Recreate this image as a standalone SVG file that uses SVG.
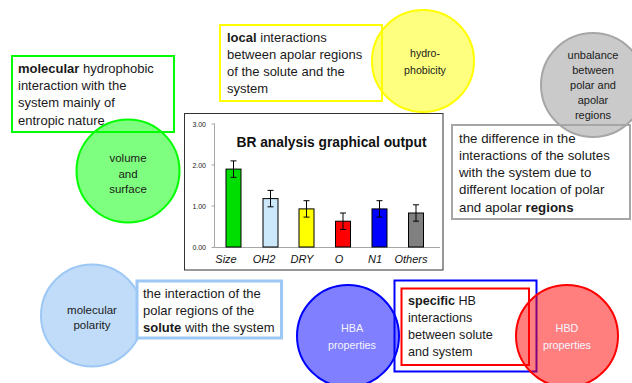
<svg xmlns="http://www.w3.org/2000/svg" width="632" height="383" viewBox="0 0 632 383">
<style>
.t{font-family:"Liberation Sans",Arial,sans-serif;font-size:13px;fill:#1a1a1a}
.c{font-family:"Liberation Sans",Arial,sans-serif;font-size:11px;fill:#1a1a1a;text-anchor:middle}
.w{fill:#f4f4ff}
.b{font-weight:bold}
.ax{font-family:"Liberation Sans",Arial,sans-serif;font-size:7px;fill:#222;text-anchor:end}
.xl{font-family:"Liberation Sans",Arial,sans-serif;font-size:11px;font-style:italic;fill:#111;text-anchor:middle}
.bar{stroke:#000;stroke-width:1}
.err{stroke:#000;stroke-width:1;fill:none}
</style>
<rect width="632" height="383" fill="#fff"/>

<g id="molecular-hydrophobic">
<rect x="12" y="56" width="162" height="76" fill="#fff" stroke="#00ff00" stroke-width="2"/>
<text class="t" x="18" y="73"><tspan class="b">molecular</tspan> hydrophobic<tspan x="18" dy="17.2">interaction with the</tspan><tspan x="18" dy="17.2">system mainly of</tspan><tspan x="18" dy="17.2">entropic nature</tspan></text>
</g>
<g id="volume-surface">
<circle cx="128" cy="171" r="51.5" fill="#00ff00" fill-opacity="0.5" stroke="#00ff00" stroke-width="2"/>
<text class="c" x="128" y="162" style="font-size:11.5px">volume<tspan x="128" dy="15.7">and</tspan><tspan x="128" dy="15.7">surface</tspan></text>
</g>

<g id="local-interactions">
<rect x="220" y="25" width="162" height="76" fill="#fff" stroke="#ffff00" stroke-width="2"/>
<text class="t" x="227" y="41.5"><tspan class="b">local</tspan> interactions<tspan x="227" dy="17.3">between apolar regions</tspan><tspan x="227" dy="17.3">of the solute and the</tspan><tspan x="227" dy="17.3">system</tspan></text>
</g>
<g id="hydrophobicity">
<circle cx="423" cy="61" r="51" fill="#ffff00" fill-opacity="0.5" stroke="#ffff00" stroke-width="2"/>
<text class="c" x="425" y="57" style="font-size:10.6px">hydro-<tspan x="425" dy="17">phobicity</tspan></text>
</g>

<g id="difference">
<rect x="452" y="125" width="178" height="94" fill="#fff" stroke="#a6a6a6" stroke-width="2"/>
<text class="t" x="459" y="142.5" style="font-size:13.3px">the difference in the<tspan x="459" dy="17.3">interactions of the solutes</tspan><tspan x="459" dy="17.3">with the system due to</tspan><tspan x="459" dy="17.3">different location of polar</tspan><tspan x="459" dy="17.3">and apolar <tspan class="b">regions</tspan></tspan></text>
</g>
<g id="unbalance">
<circle cx="593" cy="85" r="52" fill="#a6a6a6" fill-opacity="0.6" stroke="#a6a6a6" stroke-width="2"/>
<text class="c" x="593" y="59">unbalance<tspan x="593" dy="15">between</tspan><tspan x="593" dy="15">polar and</tspan><tspan x="593" dy="15">apolar</tspan><tspan x="593" dy="15">regions</tspan></text>
</g>

<g id="chart">
<rect x="184.5" y="113.5" width="258.5" height="156.5" fill="#fff" stroke="#333" stroke-width="1"/>
<text x="331.5" y="147" style="font-family:'Liberation Sans',Arial,sans-serif;font-size:13.8px;font-weight:bold;fill:#111" text-anchor="middle">BR analysis graphical output</text>
<g stroke="#a6a6a6" stroke-width="1">
<line x1="214.5" y1="123.5" x2="214.5" y2="247.5"/>
<line x1="214.5" y1="247.5" x2="440" y2="247.5"/>
<line x1="211.5" y1="124" x2="214.5" y2="124"/>
<line x1="211.5" y1="165" x2="214.5" y2="165"/>
<line x1="211.5" y1="206" x2="214.5" y2="206"/>
<line x1="211.5" y1="247.5" x2="214.5" y2="247.5"/>
</g>
<text class="ax" x="206" y="126.5">3.00</text>
<text class="ax" x="206" y="167.5">2.00</text>
<text class="ax" x="206" y="208.5">1.00</text>
<text class="ax" x="206" y="249.5">0.00</text>
<rect class="bar" x="226" y="169.1" width="15" height="77.9" fill="#00dd00"/>
<rect class="bar" x="263" y="198.6" width="15" height="48.4" fill="#cce8fb"/>
<rect class="bar" x="299" y="208.9" width="15" height="38.1" fill="#ffff00"/>
<rect class="bar" x="335.5" y="221.2" width="15" height="25.8" fill="#ff0000"/>
<rect class="bar" x="372" y="208.9" width="15" height="38.1" fill="#0000ff"/>
<rect class="bar" x="408.5" y="213" width="15" height="34" fill="#808080"/>
<path class="err" d="M233.5 160.9V177.3M230.5 160.9H236.5M230.5 177.3H236.5"/>
<path class="err" d="M270.5 190.4V206.8M267.5 190.4H273.5M267.5 206.8H273.5"/>
<path class="err" d="M306.5 200.7V217.1M303.5 200.7H309.5M303.5 217.1H309.5"/>
<path class="err" d="M343 213V229.4M340 213H346M340 229.4H346"/>
<path class="err" d="M379.5 200.7V217.1M376.5 200.7H382.5M376.5 217.1H382.5"/>
<path class="err" d="M416 204.8V221.2M413 204.8H419M413 221.2H419"/>
<text class="xl" x="226" y="263">Size</text>
<text class="xl" x="264" y="263">OH2</text>
<text class="xl" x="302" y="263">DRY</text>
<text class="xl" x="339" y="263">O</text>
<text class="xl" x="375" y="263">N1</text>
<text class="xl" x="411" y="263">Others</text>
</g>

<g id="molecular-polarity">
<circle cx="92" cy="315.5" r="51" fill="#c0dcf8" stroke="#9dc7f4" stroke-width="2"/>
<text class="c" x="92" y="314" style="font-size:11.5px">molecular<tspan x="92" dy="14.5">polarity</tspan></text>
</g>
<g id="polar-interaction">
<rect x="137" y="281" width="144.5" height="57" fill="#fff" stroke="#9dc7f4" stroke-width="3"/>
<text class="t" x="143" y="297.5">the interaction of the<tspan x="143" dy="17.3">polar regions of the</tspan><tspan x="143" dy="17.3"><tspan class="b">solute</tspan> with the system</tspan></text>
</g>

<g id="hba">
<circle cx="348" cy="336" r="51" fill="#0000ff" fill-opacity="0.5" stroke="#0000ff" stroke-width="2"/>
<text class="c w" x="352" y="331.5" style="font-size:10.8px">HBA<tspan x="352" dy="17">properties</tspan></text>
</g>
<g id="hb-outer">
<rect x="394.5" y="280.5" width="142" height="91" fill="none" stroke="#0000ff" stroke-width="2"/>
</g>
<g id="specific-hb">
<rect x="401.5" y="288.5" width="127.5" height="76.5" fill="#fff" stroke="#ff0000" stroke-width="2"/>
<text class="t" x="408" y="304.5" style="font-size:12.6px"><tspan class="b">specific</tspan> HB<tspan x="408" dy="17.3">interactions</tspan><tspan x="408" dy="17.3">between solute</tspan><tspan x="408" dy="17.3">and system</tspan></text>
</g>
<g id="hbd">
<circle cx="567" cy="336" r="51" fill="#ff0000" fill-opacity="0.5" stroke="#ff0000" stroke-width="2"/>
<text class="c w" x="567" y="331.5" style="font-size:10.8px">HBD<tspan x="567" dy="17">properties</tspan></text>
</g>
</svg>
